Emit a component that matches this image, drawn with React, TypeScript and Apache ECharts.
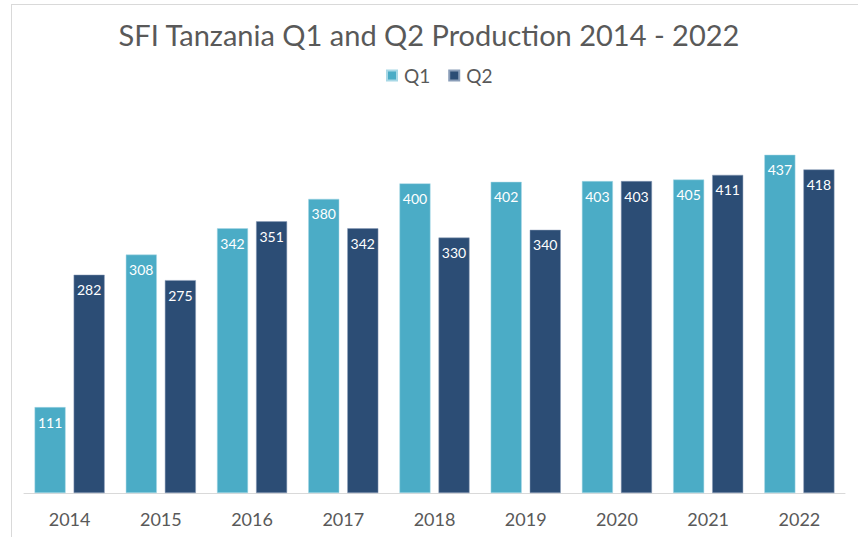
import React, { useEffect, useRef } from "react";
import * as echarts from "echarts";

const categories = ["2014", "2015", "2016", "2017", "2018", "2019", "2020", "2021", "2022"];
const q1Values = [111, 308, 342, 380, 400, 402, 403, 405, 437];
const q2Values = [282, 275, 351, 342, 330, 340, 403, 411, 418];
const seriesNames = ["Q1", "Q2"];
const titleText = "SFI Tanzania Q1 and Q2 Production 2014 - 2022";

const FONT = "Lato, 'Open Sans', sans-serif";

export default function App() {
  const ref = useRef<HTMLDivElement>(null);
  useEffect(() => {
    if (!ref.current) return;
    const chart = echarts.init(ref.current, null, { renderer: "svg" });
    const label = {
      show: true,
      position: "insideTop",
      distance: 8,
      color: "#ffffff",
      fontSize: 14,
      fontFamily: FONT,
    };
    chart.setOption({
      animation: false,
      backgroundColor: "#ffffff",
      title: {
        text: titleText,
        left: "center",
        top: 15,
        textStyle: { fontFamily: FONT, fontSize: 29, fontWeight: "normal", color: "#595959" },
      },
      legend: {
        data: seriesNames,
        top: 61,
        left: 381,
        itemWidth: 10,
        itemHeight: 10,
        itemGap: 18,
        icon: "rect",
        textStyle: { fontFamily: FONT, fontSize: 19, color: "#595959", padding: [0, 0, 0, 2] },
      },
      grid: { left: 24, right: 13, top: 106, bottom: 44, containLabel: false },
      xAxis: {
        type: "category",
        data: categories,
        axisLine: { show: true, lineStyle: { color: "#d9d9d9", width: 1 } },
        axisTick: { show: false },
        axisLabel: { fontFamily: FONT, fontSize: 18, color: "#595959", margin: 17 },
      },
      yAxis: {
        type: "value",
        min: 0,
        max: 500,
        show: false,
        splitLine: { show: false },
      },
      series: [
        {
          name: seriesNames[0],
          type: "bar",
          data: q1Values,
          barWidth: 31,
          barGap: "26%",
          itemStyle: { color: "#4BACC6", borderColor: "#a8d8e6", borderWidth: 0.5 },
          label,
        },
        {
          name: seriesNames[1],
          type: "bar",
          data: q2Values,
          barWidth: 31,
          barGap: "26%",
          itemStyle: { color: "#2C4D75", borderColor: "#8a9db8", borderWidth: 0.5 },
          label,
        },
      ],
      graphic: [
        { type: "line", shape: { x1: 11, y1: 4.5, x2: 858, y2: 4.5 }, style: { stroke: "#d9d9d9", lineWidth: 1 } },
        { type: "line", shape: { x1: 11.5, y1: 4, x2: 11.5, y2: 537 }, style: { stroke: "#d9d9d9", lineWidth: 1 } },
      ],
    });
    return () => chart.dispose();
  }, []);
  return <div ref={ref} style={{ width: 858, height: 537, position: "fixed", left: 0, top: 0 }} />;
}
